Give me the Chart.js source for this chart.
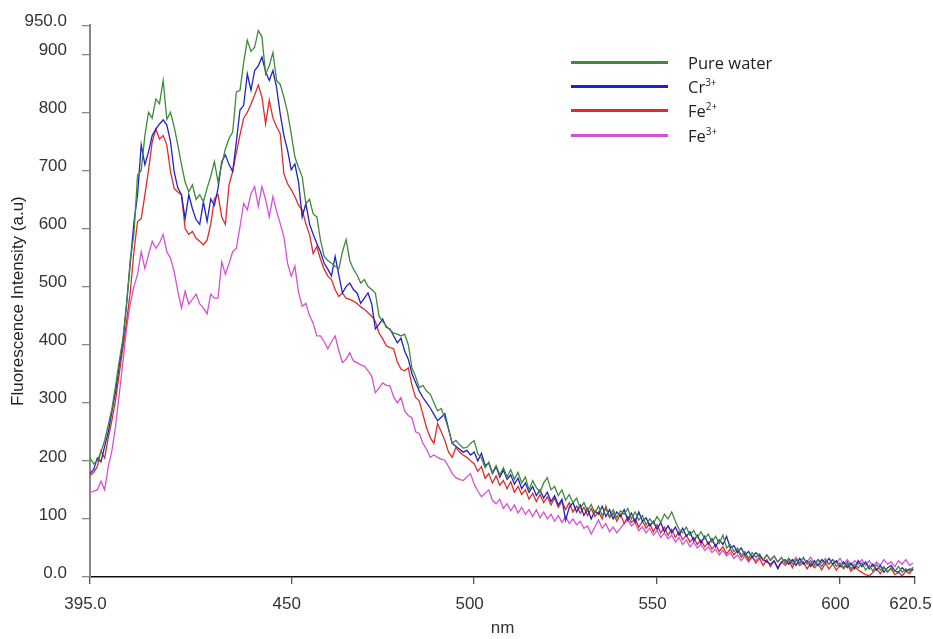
<!DOCTYPE html>
<html>
<head>
<meta charset="utf-8">
<script src="https://cdn.jsdelivr.net/npm/chart.js@4"></script>
<style>
    body { margin: 0; background: #fff; }
    #wrap { position: relative; width: 933px; height: 639px; }
    #legend { position: absolute; left: 571px; top: 50px; font-family: "Open Sans", sans-serif; font-size: 16.5px; color: #222; }
    .item { display: flex; align-items: center; height: 24.3px; }
    .swatch { width: 97px; height: 3px; margin-right: 20px; }
    sup { font-size: 10px; vertical-align: 7px; line-height: 0; }
</style>
</head>
<body>
<div id="wrap">
    <canvas id="chart" width="933" height="639"></canvas>
    <div id="legend"></div>
</div>
<script>
// Data (wavelength grid is the instrument's 1 nm sampling, 395..620 nm)
const wavelengths = Array.from({ length: 226 }, (_, i) => 395 + i);

const pureWater = [
    205, 195, 200, 215, 235, 262, 290, 330, 372, 410, 470, 545, 590, 692, 700, 760, 800, 790, 823, 815,
    855, 788, 800, 775, 744, 710, 680, 663, 675, 650, 658, 646, 669, 690, 715, 680, 710, 737, 755, 766,
    835, 838, 886, 924, 905, 912, 941, 930, 866, 880, 903, 855, 848, 826, 800, 763, 723, 705, 689, 643,
    650, 625, 620, 580, 552, 545, 540, 535, 530, 560, 581, 545, 530, 520, 506, 512, 500, 495, 489, 449,
    440, 432, 425, 420, 418, 415, 418, 400, 360, 345, 326, 330, 320, 315, 300, 286, 290, 274, 255, 230,
    235, 228, 222, 223, 230,
    235, 212, 205, 188, 198, 180, 192, 176, 188, 172, 185, 168, 180, 162, 172, 150, 166, 154, 146, 162,
    171, 150, 156, 140, 150, 132, 142, 128, 136, 118, 128, 114, 125, 110, 122, 106, 118, 104, 116, 102,
    114, 108, 118, 100, 112, 98, 106, 90, 100, 92, 104, 94, 108, 100, 112, 96, 82, 76, 86, 72,
    80, 68, 78, 66, 74, 60, 70, 58, 72, 50, 56, 44, 50, 38, 44, 32, 42, 34, 40, 30,
    38, 28, 36, 26, 33, 24, 32, 22, 30, 24, 34, 22, 28, 20, 30, 18, 28, 22, 30, 18,
    24, 16, 26, 14, 22, 16, 24, 12, 20, 10, 22, 12, 18, 8, 16, 10, 18, 8, 14, 10,
    17
];

const chromium3 = [
    178, 185, 205, 198, 225, 250, 285, 320, 365, 405, 470, 540, 610, 658, 744, 710, 732, 760, 771, 780,
    787, 778, 750, 698, 670, 658, 617, 658, 634, 615, 607, 646, 612, 651, 640, 669, 715, 727, 710, 698,
    749, 804, 812, 866, 838, 872, 880, 895, 870, 855, 872, 843, 797, 760, 735, 701, 711, 680, 620, 643,
    608, 590, 574, 560, 540, 530, 518, 552, 520, 489, 500, 506, 495, 489, 471, 480, 489, 470, 427, 435,
    444, 430, 427, 415, 403, 411, 389, 375, 350, 335, 320, 309, 300, 291, 280, 269, 275, 281, 255, 230,
    225, 220, 215, 218, 210,
    215, 200, 213, 192, 196, 178, 190, 172, 184, 168, 176, 160, 170, 152, 162, 146, 156, 140, 150, 136,
    146, 130, 140, 124, 134, 98, 120, 128, 112, 124, 106, 118, 100, 114, 108, 122, 104, 116, 100, 112,
    104, 116, 98, 110, 94, 112, 96, 102, 88, 96, 82, 94, 78, 88, 76, 86, 72, 84, 70, 78,
    62, 72, 58, 70, 56, 66, 52, 64, 56, 70, 50, 54, 42, 50, 38, 44, 34, 42, 36, 30,
    26, 22, 28, 14, 26, 30, 22, 30, 20, 32, 22, 28, 18, 28, 20, 30, 24, 32, 22, 28,
    18, 26, 16, 24, 14, 28, 18, 26, 14, 22, 12, 20, 8, 16, 20, 10, 8, 16, 10, 14,
    12
];

const iron2 = [
    175, 180, 190, 217, 205, 240, 270, 305, 350, 395, 440, 490, 560, 612, 617, 658, 700, 749, 771, 754,
    760, 744, 698, 669, 663, 658, 600, 590, 595, 583, 578, 572, 580, 607, 651, 658, 620, 607, 675, 698,
    730, 761, 790, 800, 814, 830, 847, 826, 780, 821, 790, 775, 763, 694, 677, 667, 655, 640, 632, 608,
    590, 557, 569, 547, 530, 518, 512, 495, 483, 489, 480, 478, 475, 471, 465, 461, 455, 449, 440, 420,
    410, 398, 395, 393, 370, 358, 355, 360, 330, 309, 303, 280, 257, 240, 230, 264, 250, 235, 215, 206,
    223, 215, 210, 206, 200,
    195, 182, 190, 170, 178, 162, 174, 158, 166, 152, 164, 146, 156, 142, 150, 134, 144, 130, 142, 128,
    138, 124, 136, 120, 130, 116, 128, 112, 122, 110, 120, 106, 118, 104, 112, 100, 122, 102, 110, 96,
    108, 92, 104, 94, 100, 86, 96, 84, 92, 78, 90, 76, 86, 72, 82, 68, 78, 64, 72, 60,
    68, 56, 64, 52, 60, 48, 56, 44, 52, 40, 48, 38, 46, 34, 40, 28, 36, 24, 32, 20,
    30, 18, 28, 16, 26, 20, 28, 16, 30, 20, 26, 14, 24, 16, 22, 12, 24, 14, 22, 12,
    20, 14, 22, 10, 18, 12, 8, 4, 2, 8, 14, 6, 16, 10, 14, 4, 8, 2, 10, 6,
    15
];

const iron3 = [
    145, 148, 150, 165, 150, 190, 218, 260, 315, 370, 429, 470, 500, 521, 560, 531, 555, 578, 566, 575,
    590, 560, 549, 526, 492, 463, 492, 470, 478, 487, 470, 463, 453, 487, 480, 480, 543, 521, 540, 560,
    566, 603, 643, 632, 660, 672, 638, 672, 650, 620, 655, 630, 608, 586, 540, 518, 535, 490, 466, 471,
    450, 437, 415, 415, 405, 393, 405, 415, 390, 369, 375, 386, 372, 369, 365, 363, 355, 346, 317, 325,
    334, 330, 329, 310, 300, 309, 286, 278, 274, 250, 247, 230, 220, 206, 210, 206, 203, 201, 190, 178,
    171, 168, 166, 172, 178,
    160, 148, 138, 144, 150, 132, 126, 134, 118, 126, 114, 124, 110, 120, 108, 116, 104, 116, 102, 112,
    100, 108, 96, 106, 94, 104, 92, 100, 90, 96, 84, 88, 74, 86, 98, 84, 92, 78, 86, 76,
    84, 92, 98, 88, 94, 80, 86, 76, 84, 72, 80, 68, 76, 66, 72, 60, 68, 56, 64, 52,
    60, 50, 56, 46, 52, 42, 48, 38, 46, 36, 42, 32, 38, 28, 36, 26, 34, 28, 36, 28,
    38, 30, 36, 26, 34, 24, 32, 26, 34, 24, 32, 26, 34, 22, 30, 24, 32, 22, 30, 24,
    32, 22, 30, 20, 28, 22, 30, 20, 28, 18, 26, 20, 30, 22, 26, 18, 28, 22, 30, 20,
    24
];

const seriesNames = ['Pure water', 'Cr', 'Fe', 'Fe'];
const seriesCharges = ['', '3+', '2+', '3+'];
const seriesColors = ['#3f8a3a', '#2222c4', '#e12a2a', '#d452d4'];

const xTicks = [395, 450, 500, 550, 600, 620.5];
const xTickLabels = ['395.0', '450', '500', '550', '600', '620.5'];
const yTicks = [0, 100, 200, 300, 400, 500, 600, 700, 800, 900, 950];
const yTickLabels = ['0.0', '100', '200', '300', '400', '500', '600', '700', '800', '900', '950.0'];

// Build datasets
const allSeries = [pureWater, chromium3, iron2, iron3];
const datasets = allSeries.map((values, i) => ({
    label: seriesNames[i] + seriesCharges[i],
    data: values.map((v, j) => ({ x: wavelengths[j], y: v })),
    borderColor: seriesColors[i],
    borderWidth: 1.3,
    pointRadius: 0,
    tension: 0,
    fill: false
}));

// HTML legend (needs superscripts)
const legend = document.getElementById('legend');
seriesNames.forEach((name, i) => {
    const item = document.createElement('div');
    item.className = 'item';
    const charge = seriesCharges[i] ? `<sup>${seriesCharges[i]}</sup>` : '';
    item.innerHTML = `<span class="swatch" style="background:${seriesColors[i]}"></span><span>${name}${charge}</span>`;
    legend.appendChild(item);
});

const axisFont = { family: 'Liberation Sans, Arial, sans-serif', size: 17 };

new Chart(document.getElementById('chart'), {
    type: 'line',
    data: { datasets: datasets },
    options: {
        responsive: false,
        animation: false,
        layout: { padding: { top: 23, right: 18, left: 0, bottom: 0 } },
        plugins: {
            legend: { display: false },
            tooltip: { enabled: false }
        },
        scales: {
            x: {
                type: 'linear',
                min: 395,
                max: 620.5,
                afterBuildTicks: function(axis) {
                    axis.ticks = xTicks.map(v => ({ value: v }));
                },
                afterFit: function(axis) {
                    axis.height = 62;
                    axis.paddingLeft = 0;
                    axis.paddingRight = 0;
                },
                ticks: {
                    font: axisFont,
                    color: '#333',
                    padding: 10,
                    labelOffset: -4.5,
                    maxRotation: 0,
                    autoSkip: false,
                    callback: function(value) {
                        const idx = xTicks.indexOf(value);
                        return idx >= 0 ? xTickLabels[idx] : '';
                    }
                },
                grid: { drawOnChartArea: false, drawTicks: true, tickLength: 7, color: '#555', lineWidth: 1.3 },
                border: { color: '#111', width: 1.6 },
                title: {
                    display: true,
                    text: 'nm',
                    font: axisFont,
                    color: '#333',
                    padding: { top: 0, bottom: 0 }
                }
            },
            y: {
                min: 0,
                max: 950,
                afterBuildTicks: function(axis) {
                    axis.ticks = yTicks.map(v => ({ value: v }));
                },
                afterFit: function(axis) {
                    axis.width = 90;
                },
                ticks: {
                    font: axisFont,
                    color: '#333',
                    padding: 15,
                    labelOffset: -4,
                    autoSkip: false,
                    callback: function(value) {
                        const idx = yTicks.indexOf(value);
                        return idx >= 0 ? yTickLabels[idx] : '';
                    }
                },
                grid: { drawOnChartArea: false, drawTicks: true, tickLength: 8, color: '#888', lineWidth: 1.3 },
                border: { color: '#888', width: 2 },
                title: {
                    display: true,
                    text: 'Fluorescence Intensity (a.u)',
                    font: { family: 'Liberation Sans, Arial, sans-serif', size: 17 },
                    color: '#222',
                    padding: { top: 8, bottom: 0 }
                }
            }
        }
    }
});
</script>
</body>
</html>
